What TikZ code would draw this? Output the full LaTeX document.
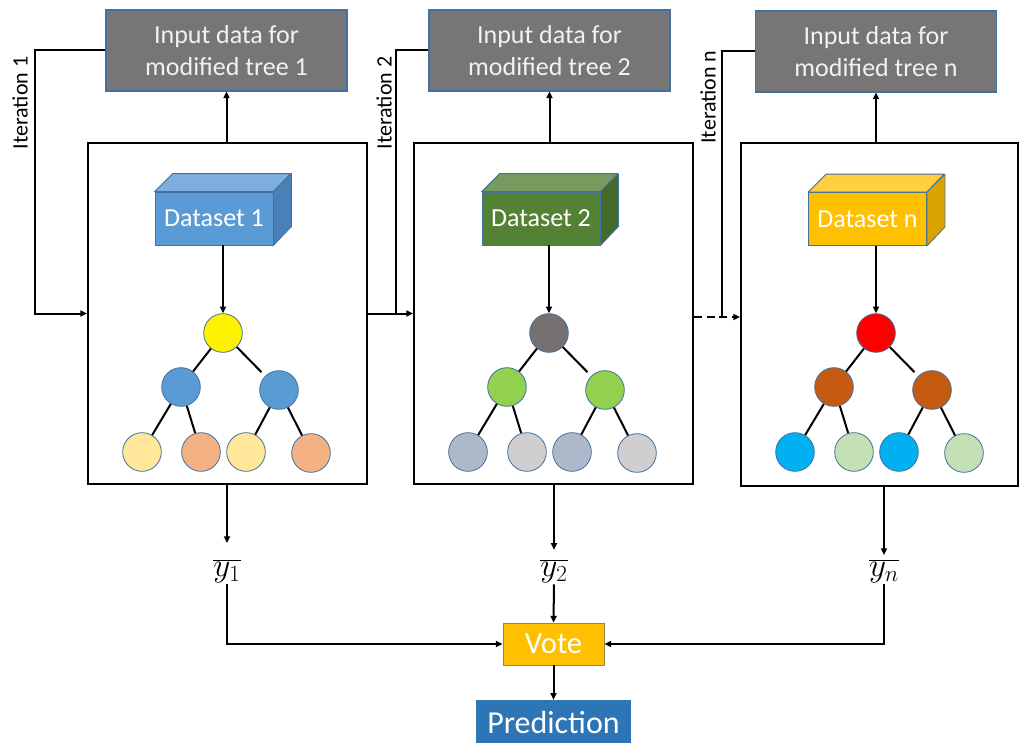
\documentclass[tikz,border=0pt]{standalone}
\usepackage{fontspec}
\setmainfont{Carlito}
\usetikzlibrary{arrows.meta,calc}

\definecolor{inputgray}{HTML}{767676}
\definecolor{edgeblue}{HTML}{41719C}
\definecolor{dsblue}{HTML}{5B9BD5}
\definecolor{dsbluetop}{HTML}{7DAEDE}
\definecolor{dsblueside}{HTML}{4A80B8}
\definecolor{dsgreen}{HTML}{548235}
\definecolor{dsgreentop}{HTML}{779B5E}
\definecolor{dsgreenside}{HTML}{446B2A}
\definecolor{dsgold}{HTML}{FFC000}
\definecolor{dsgoldtop}{HTML}{FFCF40}
\definecolor{dsgoldside}{HTML}{D9A300}
\definecolor{votegold}{HTML}{FFC000}
\definecolor{predblue}{HTML}{2E75B6}
\definecolor{lyellow}{HTML}{FFE699}
\definecolor{lorange}{HTML}{F4B183}
\definecolor{midblue}{HTML}{5B9BD5}
\definecolor{midgreen}{HTML}{92D050}
\definecolor{lslate}{HTML}{ADB9CA}
\definecolor{lsilver}{HTML}{D0CECE}
\definecolor{rootgray}{HTML}{767171}
\definecolor{midrust}{HTML}{C55A11}
\definecolor{cyanleaf}{HTML}{00B0F0}
\definecolor{lsage}{HTML}{C5E0B4}

\tikzset{
  inputbox/.style={draw=edgeblue, line width=0.8pt, fill=inputgray, text=white!95!black,
    minimum width=180.75pt, minimum height=60.75pt, inner sep=0pt, align=center,
    font=\fontsize{19.5}{24.5}\selectfont},
  treebox/.style={draw=black, line width=1.5pt, fill=white, inner sep=0pt},
  frontface/.style={draw=edgeblue, line width=0.6pt, minimum width=88.5pt, minimum height=39.75pt,
    inner sep=0pt, text=white, font=\fontsize{19.5}{22}\selectfont},
  facedraw/.style={draw=edgeblue, line width=0.6pt, line join=round},
  treenode/.style={circle, draw=edgeblue, line width=0.6pt, minimum size=29pt, inner sep=0pt},
  treeedge/.style={line width=1.5pt},
  conn/.style={line width=1.5pt},
  arr/.style={line width=1.5pt, -{Triangle[length=5pt,width=4.5pt]}},
  iterlabel/.style={rotate=90, font=\fontsize{16.5}{20}\selectfont, inner sep=0pt},
  ylabel/.style={inner sep=0pt, font=\fontsize{27}{30}\selectfont},
  votebox/.style={draw=olive!60!gray, line width=0.6pt, fill=votegold, text=white,
    minimum width=75.75pt, minimum height=31.5pt, inner sep=0pt, font=\fontsize{23}{26}\selectfont},
  predbox/.style={fill=predblue, text=white, minimum width=116.25pt, minimum height=33.75pt,
    inner sep=0pt, font=\fontsize{24}{28}\selectfont},
}

% a three-level binary tree: prefix, root position, root / middle / two leaf colours
\newcommand\ensembletree[6]{%
  \begin{scope}[shift={#2}]
    \node[treenode, fill=#3] (#1r) at (0,0) {};
    \node[treenode, fill=#4] (#1a) at (-42,54) {};
    \node[treenode, fill=#4] (#1b) at (56,57) {};
    \node[treenode, fill=#5] (#1c) at (-81,119) {};
    \node[treenode, fill=#6] (#1d) at (-22,119) {};
    \node[treenode, fill=#5] (#1e) at (23,119) {};
    \node[treenode, fill=#6] (#1f) at (88,120) {};
    \draw[treeedge] (#1r) -- (#1a);
    \draw[treeedge, shorten >=4pt] (#1r) -- (#1b);
    \draw[treeedge] (#1a) -- (#1c);
    \draw[treeedge] (#1a) -- (#1d);
    \draw[treeedge] (#1b) -- (#1e);
    \draw[treeedge] (#1b) -- (#1f);
  \end{scope}}

% a dataset cuboid: name, centre of front face, front / top / side colours, label
\newcommand\datacube[6]{%
  \node[frontface, fill=#3] (#1) at #2 {#6};
  \filldraw[facedraw, fill=#4] (#1.north west) -- ++(18,-18) -- ++(118,0) -- (#1.north east) -- cycle;
  \filldraw[facedraw, fill=#5] (#1.north east) -- ++(18,-18) -- ++(0,53) -- (#1.south east) -- cycle;}

\begin{document}
\begin{tikzpicture}[x=0.75pt, y=-0.75pt]
\useasboundingbox (0,0) rectangle (1020,742);

% main boxes holding each tree
\node[treebox, minimum width=209.25pt, minimum height=255.75pt] (m1) at (227.5,313.5) {};
\node[treebox, minimum width=209.25pt, minimum height=255.75pt] (m2) at (553.5,313.5) {};
\node[treebox, minimum width=207.75pt, minimum height=257.25pt] (mn) at (879.5,314.5) {};

% input data boxes
\node[inputbox] (g1) at (226.5,50.5) {Input data for\\modified tree 1};
\node[inputbox] (g2) at (549.5,50.5) {Input data for\\modified tree 2};
\node[inputbox] (gn) at (876,51.5) {Input data for\\modified tree n};

\draw[arr] (m1.north -| g1.south) -- (g1.south);
\draw[arr] (m2.north -| g2.south) -- (g2.south);
\draw[arr] (mn.north -| gn.south) -- (gn.south);

% datasets
\datacube{d1}{(214,218.5)}{dsblue}{dsbluetop}{dsblueside}{Dataset 1}
\datacube{d2}{(541,218.5)}{dsgreen}{dsgreentop}{dsgreenside}{Dataset 2}
\datacube{dn}{(867.5,219)}{dsgold}{dsgoldtop}{dsgoldside}{Dataset n}

% trees
\ensembletree{t1}{(223,333)}{yellow}{midblue}{lyellow}{lorange}
\ensembletree{t2}{(549,333)}{rootgray}{midgreen}{lslate}{lsilver}
\ensembletree{tn}{(876,333)}{red}{midrust}{cyanleaf}{lsage}

\draw[arr] (d1.south -| t1r) -- (t1r);
\draw[arr] (d2.south -| t2r) -- (t2r);
\draw[arr] (dn.south -| tnr) -- (tnr);

% iteration loops
\coordinate (c1) at (35,313.5);
\coordinate (c2) at (396,313.5);
\coordinate (cn) at (722,317);
\draw[arr] (g1.west) -| (c1) -- (m1.west);
\draw[arr] (m1.east) -- (m2.west);
\draw[conn] (g2.west) -| (c2);
\draw[arr, dashed, dash pattern=on 6pt off 3.5pt] (m2.east |- cn) -- (mn.west |- cn);
\draw[conn] (gn.west) -| (cn);

\node[iterlabel] (i1) at (20,103) {Iteration 1};
\node[iterlabel] (i2) at (384,103) {Iteration 2};
\node[iterlabel] (in) at (708,97) {Iteration n};

% outputs and vote
\node[ylabel] (y1) at (227,571) {$\overline{y_1}$};
\node[ylabel] (y2) at (554,571) {$\overline{y_2}$};
\node[ylabel] (yn) at (884,571) {$\overline{y_n}$};

\draw[arr, shorten >=12pt] (m1.south -| y1) -- (y1.north);
\draw[arr, shorten >=7pt] (m2.south -| y2) -- (y2.north);
\draw[arr, shorten >=3pt] (mn.south -| yn) -- (yn.north);

\node[votebox] (vote) at (553.5,644) {Vote};
\node[predbox] (pred) at (553.5,722.5) {Prediction};

\draw[arr, shorten <=1pt] (y1.south) |- (vote.west);
\draw[arr, shorten <=1pt] (y2.south) -- (vote.north);
\draw[arr, shorten <=1pt] (yn.south) |- (vote.east);
\draw[arr] (vote.south) -- (pred.north);
\end{tikzpicture}
\end{document}
